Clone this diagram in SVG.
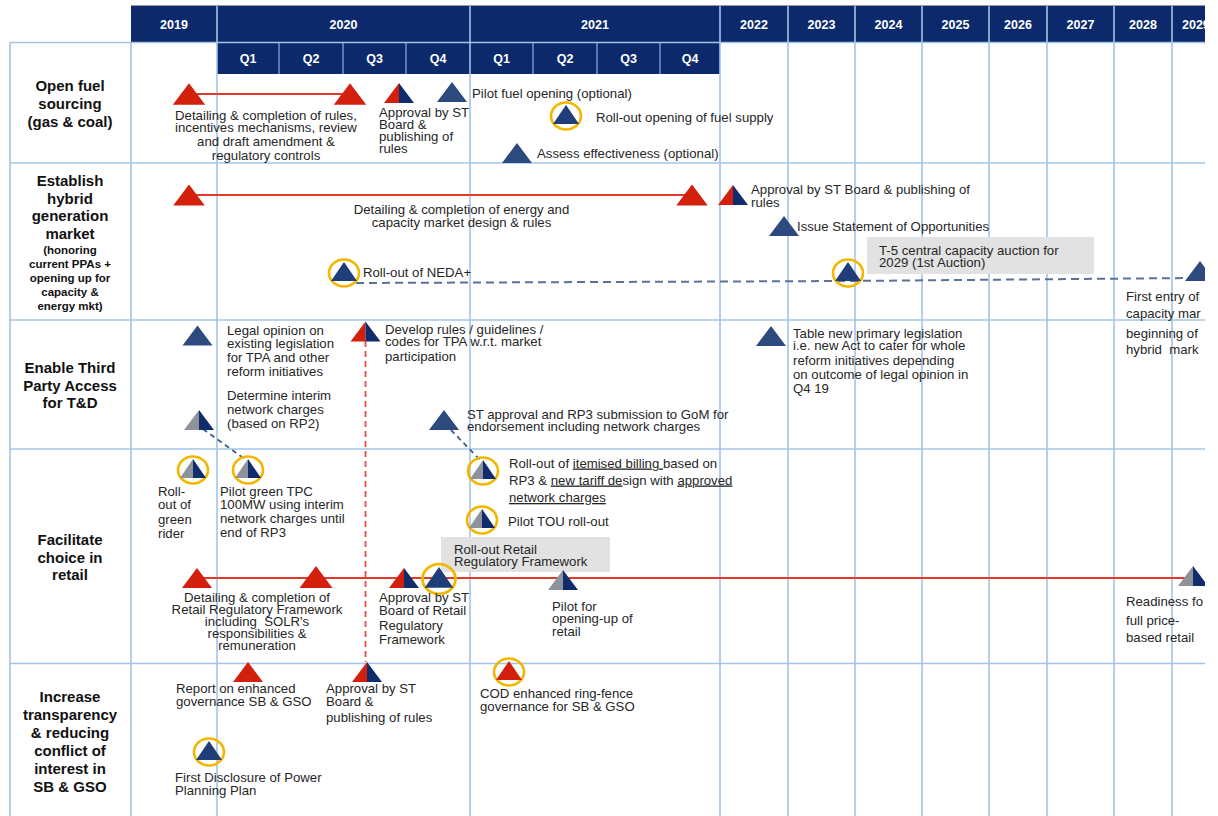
<svg xmlns="http://www.w3.org/2000/svg" width="1218" height="816" viewBox="0 0 1218 816">
<style>
.hb{fill:#0c2a6b}
.yr{font-family:"Liberation Sans",Arial,sans-serif;font-weight:bold;font-size:12.5px;fill:#fff;text-anchor:middle}
.sep{stroke:#8fb0dc;stroke-width:1.2}
.grid{stroke:#a3c4e8;stroke-width:1.6;fill:none}
.lb{font-family:"Liberation Sans",Arial,sans-serif;font-weight:bold;font-size:15px;fill:#111;text-anchor:middle}
.ls{font-size:11.5px}
.t{font-family:"Liberation Sans",Arial,sans-serif;font-size:13.2px;fill:#262626}
.m{text-anchor:middle}
.box{fill:#e2e2e2}
.rl{stroke:#e23a2a;stroke-width:2.2;fill:none}
.db{stroke:#5b7199;stroke-width:2;stroke-dasharray:8 5;fill:none}
.dr{stroke:#e84a3c;stroke-width:1.8;stroke-dasharray:6 4;fill:none}
.dd{stroke:#3d5d8e;stroke-width:1.8;stroke-dasharray:5 4;fill:none}
.ring{fill:none;stroke:#f3b700;stroke-width:2.6}
.u{text-decoration:underline}
</style>
<defs>
<clipPath id="clip"><rect x="0" y="0" width="1205" height="816"/></clipPath>
<polygon id="tR" points="-15,10 0,-10 15,10" fill="#d2200d"/>
<polygon id="tN" points="-15,10 0,-10 15,10" fill="#2c4a7e"/>
<g id="tRN"><polygon points="-15,10 0,-10 0,10" fill="#d2200d"/><polygon points="0,-10 15,10 0,10" fill="#0f2d6c"/></g>
<g id="tGN"><polygon points="-15,10 0,-10 0,10" fill="#8e9299"/><polygon points="0,-10 15,10 0,10" fill="#0f2d6c"/></g>
<g id="rN"><ellipse rx="15" ry="13.5" class="ring"/><polygon points="-13,8 0,-11 13,8" fill="#1f3d78"/></g>
<g id="rR"><ellipse rx="15" ry="13.5" class="ring"/><polygon points="-13,8 0,-11 13,8" fill="#d2200d"/></g>
<g id="rGN"><ellipse rx="15" ry="13.5" class="ring"/><polygon points="-13,8 0,-11 0,8" fill="#8e9299"/><polygon points="0,-11 13,8 0,8" fill="#0f2d6c"/></g>
</defs>
<g clip-path="url(#clip)">
<g id="header">
<line x1="131" y1="5.5" x2="1205" y2="5.5" stroke="#9a9a9a" stroke-width="1"/>
<rect class="hb" x="131" y="6" width="1074" height="36"/>
<rect class="hb" x="217" y="43" width="503" height="31"/>
<g class="sep">
<line x1="279" y1="43" x2="279" y2="74"/><line x1="343" y1="43" x2="343" y2="74"/><line x1="406" y1="43" x2="406" y2="74"/>
<line x1="533" y1="43" x2="533" y2="74"/><line x1="597" y1="43" x2="597" y2="74"/><line x1="660" y1="43" x2="660" y2="74"/>
</g>
<text class="yr" x="174" y="28.5">2019</text>
<text class="yr" x="343.5" y="28.5">2020</text>
<text class="yr" x="595" y="28.5">2021</text>
<text class="yr" x="754" y="28.5">2022</text>
<text class="yr" x="821.5" y="28.5">2023</text>
<text class="yr" x="888.5" y="28.5">2024</text>
<text class="yr" x="955.5" y="28.5">2025</text>
<text class="yr" x="1018" y="28.5">2026</text>
<text class="yr" x="1080.5" y="28.5">2027</text>
<text class="yr" x="1143" y="28.5">2028</text>
<text class="yr" x="1182" y="28.5" style="text-anchor:start">2029</text>
<text class="yr" x="248" y="63">Q1</text>
<text class="yr" x="311" y="63">Q2</text>
<text class="yr" x="374.5" y="63">Q3</text>
<text class="yr" x="438" y="63">Q4</text>
<text class="yr" x="501.5" y="63">Q1</text>
<text class="yr" x="565" y="63">Q2</text>
<text class="yr" x="628.5" y="63">Q3</text>
<text class="yr" x="690" y="63">Q4</text>
</g>
<g id="grid" class="grid">
<line x1="10" y1="42.5" x2="1205" y2="42.5"/>
<line x1="10" y1="163" x2="1205" y2="163"/>
<line x1="10" y1="320" x2="1205" y2="320"/>
<line x1="10" y1="449" x2="1205" y2="449"/>
<line x1="10" y1="663.5" x2="1205" y2="663.5"/>
<line x1="10" y1="42" x2="10" y2="816"/>
<line x1="131" y1="42" x2="131" y2="816"/>
<line x1="217" y1="6" x2="217" y2="816"/>
<line x1="470" y1="6" x2="470" y2="816"/>
<line x1="720" y1="6" x2="720" y2="816"/>
<line x1="788" y1="6" x2="788" y2="816"/>
<line x1="855" y1="6" x2="855" y2="816"/>
<line x1="922" y1="6" x2="922" y2="816"/>
<line x1="989" y1="6" x2="989" y2="816"/>
<line x1="1047" y1="6" x2="1047" y2="816"/>
<line x1="1114" y1="6" x2="1114" y2="816"/>
<line x1="1172" y1="6" x2="1172" y2="816"/>
</g>
<g id="row-labels">
<text class="lb"><tspan x="70" y="91">Open fuel</tspan><tspan x="70" y="109">sourcing</tspan><tspan x="70" y="127">(gas &amp; coal)</tspan></text>
<text class="lb"><tspan x="70" y="186">Establish</tspan><tspan x="70" y="203.5">hybrid</tspan><tspan x="70" y="221">generation</tspan><tspan x="70" y="239">market</tspan><tspan class="ls" x="70" y="254">(honoring</tspan><tspan class="ls" x="70" y="268">current PPAs +</tspan><tspan class="ls" x="70" y="282">opening up for</tspan><tspan class="ls" x="70" y="296">capacity &amp;</tspan><tspan class="ls" x="70" y="310">energy mkt)</tspan></text>
<text class="lb"><tspan x="70" y="373">Enable Third</tspan><tspan x="70" y="391">Party Access</tspan><tspan x="70" y="408">for T&amp;D</tspan></text>
<text class="lb"><tspan x="70" y="545">Facilitate</tspan><tspan x="70" y="562.5">choice in</tspan><tspan x="70" y="580">retail</tspan></text>
<text class="lb"><tspan x="70" y="702">Increase</tspan><tspan x="70" y="720">transparency</tspan><tspan x="70" y="738">&amp; reducing</tspan><tspan x="70" y="756">conflict of</tspan><tspan x="70" y="774">interest in</tspan><tspan x="70" y="792">SB &amp; GSO</tspan></text>
</g>
<g id="connectors">
<line class="rl" x1="190" y1="94" x2="350" y2="94"/>
<line class="rl" x1="190" y1="195" x2="692" y2="195"/>
<polyline class="db" points="356,283 848,281 1190,278"/>
<line class="dr" x1="365.5" y1="341" x2="365.5" y2="662"/>
<line class="dd" x1="203" y1="429" x2="246" y2="460"/>
<line class="dd" x1="451" y1="430" x2="481" y2="461"/>
<line class="rl" x1="197" y1="578" x2="1192" y2="578"/>
</g>
<g id="n1-rules">
<use href="#tR" transform="translate(189,94) scale(1.08)"/>
<use href="#tR" transform="translate(350,94) scale(1.08)"/>
<text class="t m"><tspan x="266" y="119.5">Detailing &amp; completion of rules,</tspan><tspan x="266" y="131.5">incentives mechanisms, review</tspan><tspan x="266" y="145.5">and draft amendment &amp;</tspan><tspan x="266" y="159.5">regulatory controls</tspan></text>
</g>
<g id="n1-approval">
<use href="#tRN" x="399" y="93"/>
<text class="t"><tspan x="379" y="117">Approval by ST</tspan><tspan x="379" y="129">Board &amp;</tspan><tspan x="379" y="141">publishing of</tspan><tspan x="379" y="153">rules</tspan></text>
</g>
<g id="n1-pilot">
<use href="#tN" x="452" y="92"/>
<text class="t" x="472" y="98">Pilot fuel opening (optional)</text>
</g>
<g id="n1-rollout">
<use href="#rN" x="566" y="116"/>
<text class="t" x="596" y="122">Roll-out opening of fuel supply</text>
</g>
<g id="n1-assess">
<use href="#tN" x="517" y="153"/>
<text class="t" x="537" y="158">Assess effectiveness (optional)</text>
</g>
<g id="n2-design">
<use href="#tR" transform="translate(189,195) scale(1.05)"/>
<use href="#tR" transform="translate(692,195) scale(1.05)"/>
<text class="t m"><tspan x="461.5" y="214">Detailing &amp; completion of energy and</tspan><tspan x="461.5" y="226.5">capacity market design &amp; rules</tspan></text>
</g>
<g id="n2-approval">
<use href="#tRN" x="733" y="195"/>
<text class="t"><tspan x="751" y="194">Approval by ST Board &amp; publishing of</tspan><tspan x="751" y="206.5">rules</tspan></text>
</g>
<g id="n2-sop">
<use href="#tN" x="784" y="226"/>
<text class="t" x="797" y="231">Issue Statement of Opportunities</text>
</g>
<g id="n2-neda">
<use href="#rN" x="344" y="273"/>
<text class="t" x="363" y="277">Roll-out of NEDA+</text>
</g>
<g id="n2-t5">
<rect class="box" x="867" y="237" width="227" height="37"/>
<use href="#rN" x="848" y="273"/>
<text class="t"><tspan x="879" y="254.5">T-5 central capacity auction for</tspan><tspan x="879" y="267">2029 (1st Auction)</tspan></text>
</g>
<g id="n2-first-entry">
<use href="#tN" x="1200" y="271"/>
<text class="t" xml:space="preserve"><tspan x="1126" y="301">First entry of</tspan><tspan x="1126" y="318">capacity mar</tspan><tspan x="1126" y="337.5">beginning of</tspan><tspan x="1126" y="354">hybrid  mark</tspan></text>
</g>
<g id="n3-legal">
<use href="#tN" x="197.5" y="335.5"/>
<text class="t"><tspan x="227" y="335">Legal opinion on</tspan><tspan x="227" y="348">existing legislation</tspan><tspan x="227" y="362">for TPA and other</tspan><tspan x="227" y="375.5">reform initiatives</tspan></text>
</g>
<g id="n3-develop">
<use href="#tRN" x="365.5" y="331.5"/>
<text class="t"><tspan x="385" y="333.5">Develop rules / guidelines /</tspan><tspan x="385" y="346">codes for TPA w.r.t. market</tspan><tspan x="385" y="361">participation</tspan></text>
</g>
<g id="n3-interim">
<use href="#tGN" x="199" y="420"/>
<text class="t"><tspan x="227" y="400">Determine interim</tspan><tspan x="227" y="413.5">network charges</tspan><tspan x="227" y="428">(based on RP2)</tspan></text>
</g>
<g id="n3-st-approval">
<use href="#tN" x="444" y="420"/>
<text class="t"><tspan x="467" y="418.5">ST approval and RP3 submission to GoM for</tspan><tspan x="467" y="430.5">endorsement including network charges</tspan></text>
</g>
<g id="n3-table">
<use href="#tN" x="771" y="336"/>
<text class="t"><tspan x="793" y="337.5">Table new primary legislation</tspan><tspan x="793" y="350">i.e. new Act to cater for whole</tspan><tspan x="793" y="364.5">reform initiatives depending</tspan><tspan x="793" y="379">on outcome of legal opinion in</tspan><tspan x="793" y="392.5">Q4 19</tspan></text>
</g>
<g id="n4-green-rider">
<use href="#rGN" x="193" y="470"/>
<text class="t"><tspan x="158" y="496">Roll-</tspan><tspan x="158" y="509">out of</tspan><tspan x="158" y="524">green</tspan><tspan x="158" y="537.5">rider</tspan></text>
</g>
<g id="n4-pilot-green">
<use href="#rGN" x="248" y="470"/>
<text class="t"><tspan x="220" y="496">Pilot green TPC</tspan><tspan x="220" y="509">100MW using interim</tspan><tspan x="220" y="523">network charges until</tspan><tspan x="220" y="537">end of RP3</tspan></text>
</g>
<g id="n4-itemised">
<use href="#rGN" x="483" y="471"/>
<text class="t"><tspan x="509" y="467.5">Roll-out of <tspan class="u">itemised billing </tspan>based on</tspan><tspan x="509" y="484.5">RP3 &amp; <tspan class="u">new tariff de</tspan>sign with <tspan class="u">approved</tspan></tspan><tspan x="509" y="502" class="u">network charges</tspan></text>
</g>
<g id="n4-tou">
<use href="#rGN" x="482" y="520"/>
<text class="t" x="508" y="525.5">Pilot TOU roll-out</text>
</g>
<g id="n4-rollout-rrf">
<rect class="box" x="441" y="537" width="169" height="35"/>
<use href="#rN" transform="translate(439,579) scale(1.1)"/>
<text class="t"><tspan x="454" y="553.5">Roll-out Retail</tspan><tspan x="454" y="566">Regulatory Framework</tspan></text>
</g>
<g id="n4-rrf-detail">
<use href="#tR" x="197" y="578"/>
<use href="#tR" transform="translate(316,577) scale(1.1)"/>
<text class="t m" xml:space="preserve"><tspan x="257" y="601.5">Detailing &amp; completion of</tspan><tspan x="257" y="613.5">Retail Regulatory Framework</tspan><tspan x="257" y="625.5">including  SOLR's</tspan><tspan x="257" y="637.5">responsibilities &amp;</tspan><tspan x="257" y="649.5">remuneration</tspan></text>
</g>
<g id="n4-approval">
<use href="#tRN" x="404" y="578"/>
<text class="t"><tspan x="379" y="602">Approval by ST</tspan><tspan x="379" y="614.5">Board of Retail</tspan><tspan x="379" y="630">Regulatory</tspan><tspan x="379" y="643.5">Framework</tspan></text>
</g>
<g id="n4-pilot-opening">
<use href="#tGN" x="563" y="580"/>
<text class="t"><tspan x="552" y="610.5">Pilot for</tspan><tspan x="552" y="623">opening-up of</tspan><tspan x="552" y="636">retail</tspan></text>
</g>
<g id="n4-readiness">
<use href="#tGN" x="1193" y="576"/>
<text class="t"><tspan x="1126" y="606">Readiness fo</tspan><tspan x="1126" y="624.5">full price-</tspan><tspan x="1126" y="642">based retail</tspan></text>
</g>
<g id="n5-report">
<use href="#tR" x="248" y="672"/>
<text class="t"><tspan x="176" y="693">Report on enhanced</tspan><tspan x="176" y="705.5">governance SB &amp; GSO</tspan></text>
</g>
<g id="n5-approval">
<use href="#tRN" x="367" y="672"/>
<text class="t"><tspan x="326" y="693">Approval by ST</tspan><tspan x="326" y="706">Board &amp;</tspan><tspan x="326" y="722">publishing of rules</tspan></text>
</g>
<g id="n5-cod">
<use href="#rR" x="509" y="672"/>
<text class="t"><tspan x="480" y="698">COD enhanced ring-fence</tspan><tspan x="480" y="710.5">governance for SB &amp; GSO</tspan></text>
</g>
<g id="n5-disclosure">
<use href="#rN" x="209" y="752"/>
<text class="t"><tspan x="175" y="782">First Disclosure of Power</tspan><tspan x="175" y="794.5">Planning Plan</tspan></text>
</g>
</g>
</svg>
